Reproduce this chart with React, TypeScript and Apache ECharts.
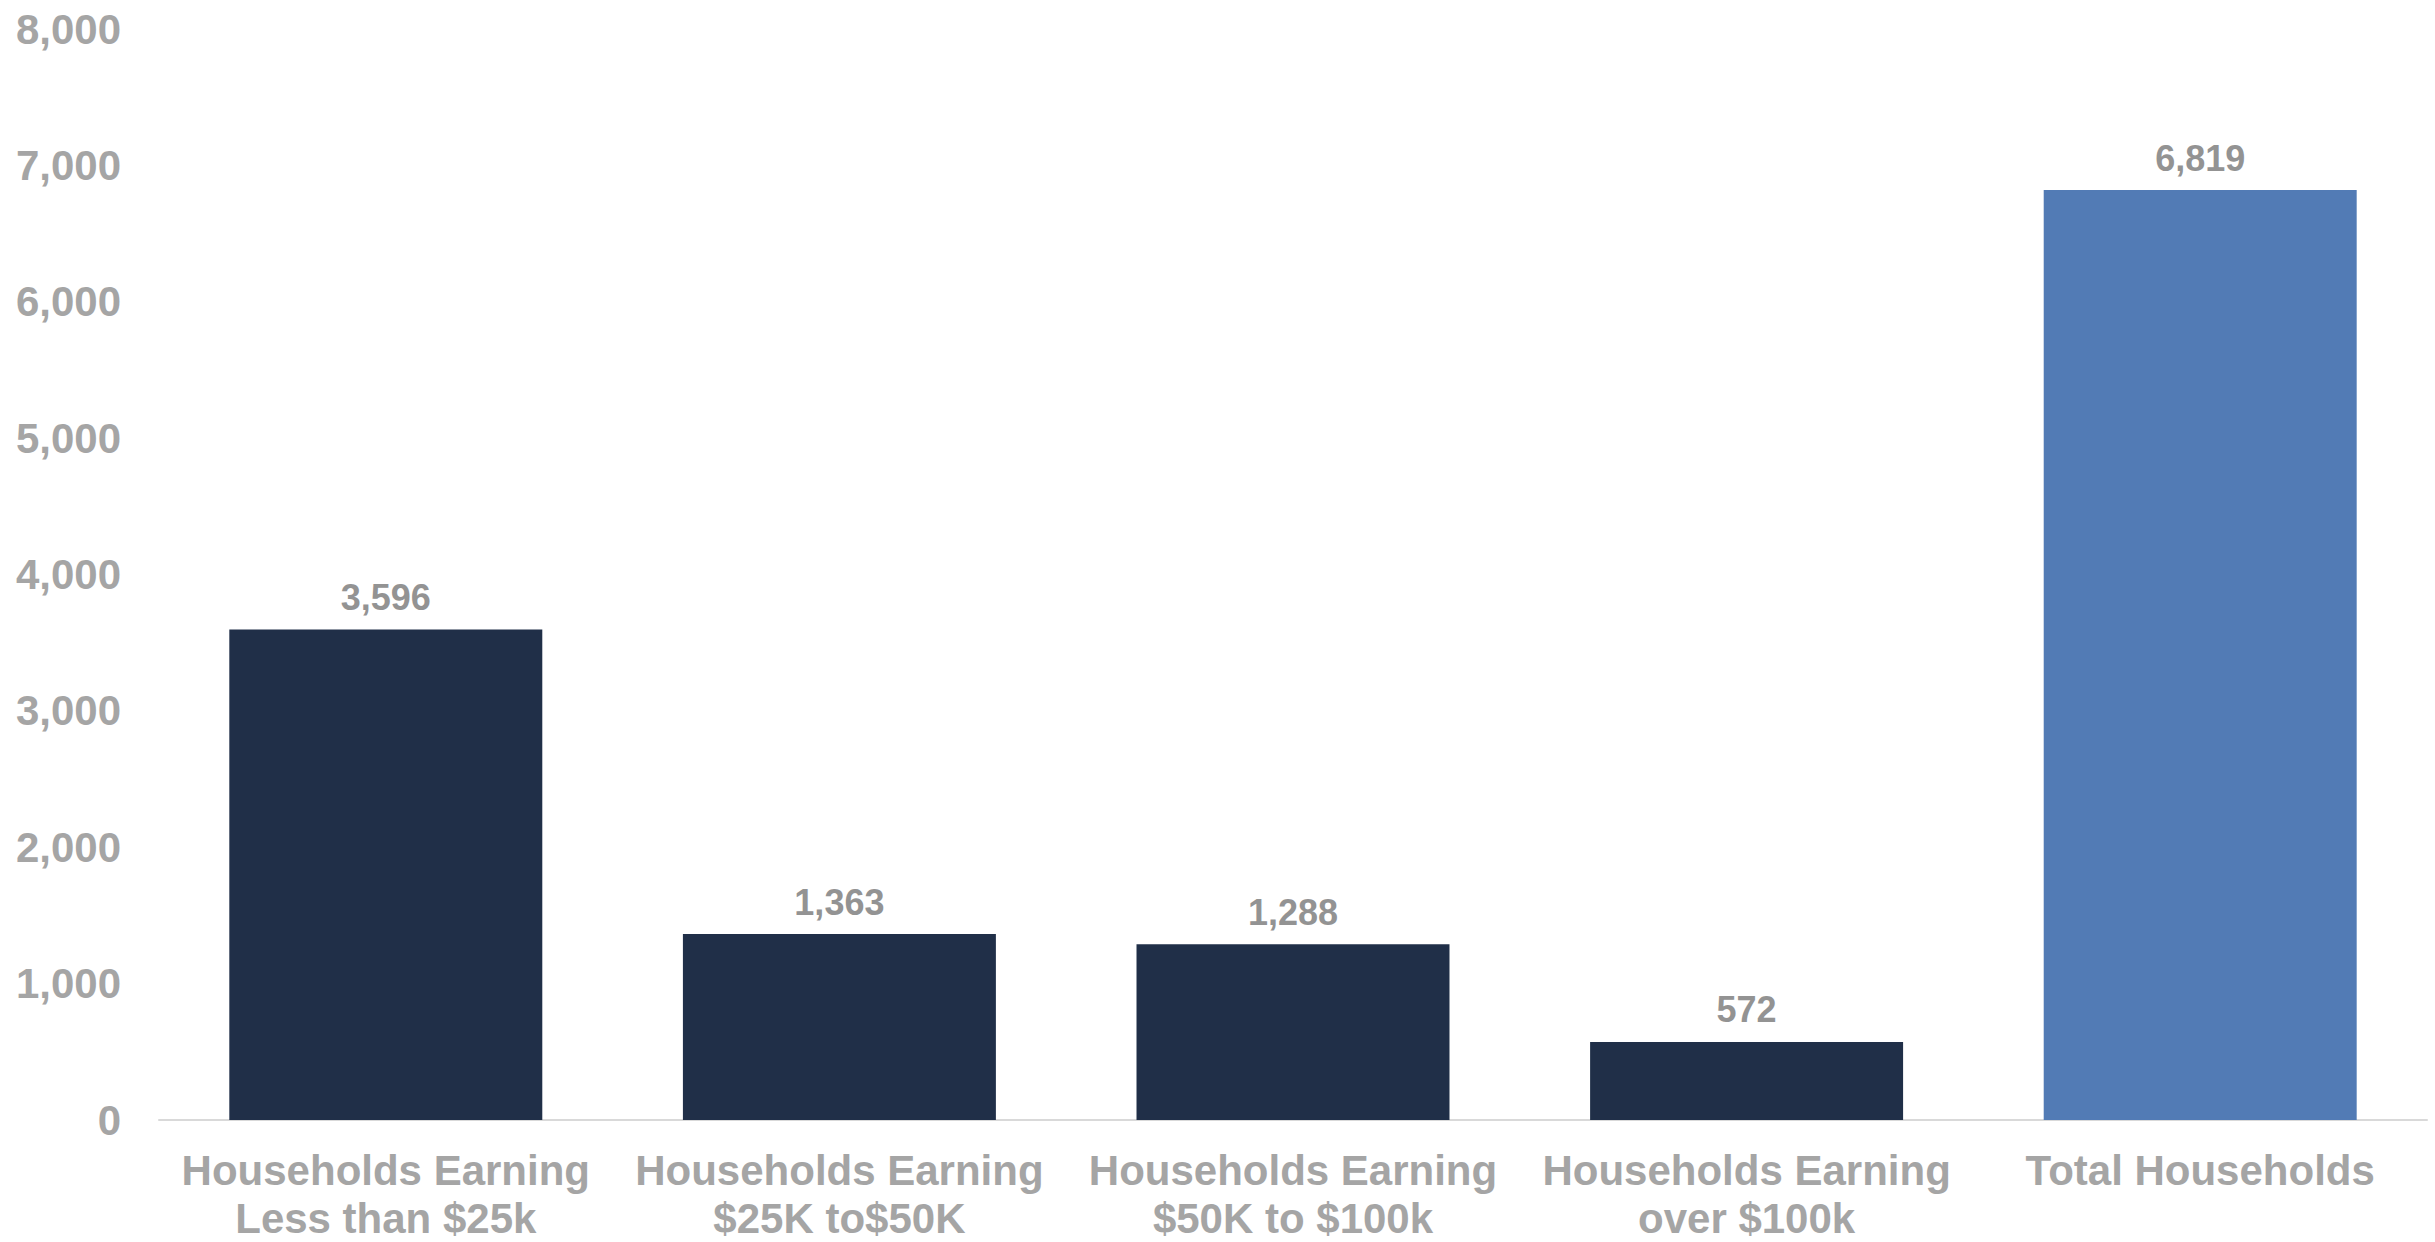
import React, { useEffect, useRef } from "react";
import * as echarts from "echarts";

const categories = [
  "Households Earning\nLess than $25k",
  "Households Earning\n$25K to$50K",
  "Households Earning\n$50K to $100k",
  "Households Earning\nover $100k",
  "Total Households",
];
const values = [3596, 1363, 1288, 572, 6819];
const barColors = ["#202f48", "#202f48", "#202f48", "#202f48", "#527bb5"];
const yTicks = { min: 0, max: 8000, interval: 1000 };

export default function App() {
  const ref = useRef<HTMLDivElement>(null);
  useEffect(() => {
    document.body.style.margin = "0";
    const chart = echarts.init(ref.current!, null, { renderer: "svg" });
    chart.setOption({
      animation: false,
      backgroundColor: "#ffffff",
      grid: { left: 159, right: 8, top: 29, bottom: 118, containLabel: false },
      xAxis: {
        type: "category",
        data: categories,
        axisLine: { show: true, lineStyle: { color: "#d9d9d9", width: 2 } },
        axisTick: { show: false },
        axisLabel: {
          interval: 0,
          margin: 26,
          color: "#a5a5a5",
          fontFamily: "Liberation Sans, Arial, sans-serif",
          fontWeight: "bold",
          fontSize: 42,
          lineHeight: 48,
        },
      },
      yAxis: {
        type: "value",
        min: yTicks.min,
        max: yTicks.max,
        interval: yTicks.interval,
        splitLine: { show: false },
        axisLine: { show: false },
        axisTick: { show: false },
        axisLabel: {
          margin: 38,
          color: "#a5a5a5",
          fontFamily: "Liberation Sans, Arial, sans-serif",
          fontWeight: "bold",
          fontSize: 42,
          formatter: (v: number) => v.toLocaleString("en-US"),
        },
      },
      series: [
        {
          type: "bar",
          data: values.map((v, i) => ({ value: v, itemStyle: { color: barColors[i] } })),
          barCategoryGap: "31%",
          label: {
            show: true,
            position: "top",
            distance: 14,
            color: "#939393",
            fontFamily: "Liberation Sans, Arial, sans-serif",
            fontWeight: "bold",
            fontSize: 36,
            formatter: (p: any) => Number(p.value).toLocaleString("en-US"),
          },
        },
      ],
    });
    return () => chart.dispose();
  }, []);
  return <div ref={ref} style={{ width: "100vw", height: "100vh" }} />;
}
